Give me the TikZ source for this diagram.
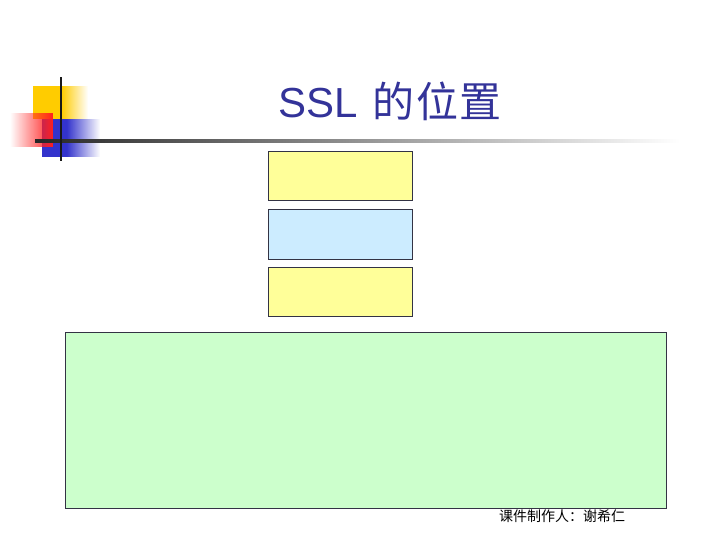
\documentclass[tikz,border=0pt]{standalone}
\usepackage{fontspec}
\setmainfont{Liberation Sans}
\newfontfamily\cjk{Noto Sans CJK SC}
\usetikzlibrary{fadings}
\definecolor{titleblue}{HTML}{333399}
\definecolor{boxyellow}{HTML}{FFFF99}
\definecolor{boxblue}{HTML}{CCECFF}
\definecolor{boxgreen}{HTML}{CCFFCC}
\definecolor{edgegray}{HTML}{333344}
\definecolor{sqyellow}{HTML}{FFCC00}
\definecolor{sqred}{HTML}{FF2020}
\definecolor{sqblue}{HTML}{3333CC}
\tikzset{
  layerbox/.style={draw=edgegray, line width=0.9pt, minimum width=144pt, minimum height=49pt, inner sep=0pt, anchor=north west},
}
\begin{document}
\begin{tikzpicture}[x=1pt,y=-1pt]
\useasboundingbox[fill=white] (0,0) rectangle (720,540);
% decorative squares
\fill[sqyellow] (33,86) rectangle (62,119);
\fill[sqyellow, path fading=east] (61.5,86) rectangle (88,119);
\fill[sqblue] (42,119) rectangle (67,157);
\fill[sqblue, path fading=east] (66.5,119) rectangle (100,157);
\fill[sqred, path fading=west] (10,113) rectangle (53,147);
% horizontal rule
\shade[left color=black!85, right color=white] (35,140) rectangle (680,143);
% vertical rule
\fill[black!90] (60,77) rectangle (62,161);
% title
\node[text=titleblue, font=\fontsize{42}{48}\selectfont] (title) at (390,101) {SSL\hspace{0.35em}{\cjk 的\hspace{0.04em}位\hspace{0.04em}置}};
% boxes
\node[layerbox, fill=boxyellow] (top) at (268,151) {};
\node[layerbox, fill=boxblue, minimum height=50pt] (mid) at (268,209) {};
\node[layerbox, fill=boxyellow] (bot) at (268,267) {};
\node[draw=edgegray, line width=0.9pt, fill=boxgreen, minimum width=601pt, minimum height=176pt, inner sep=0pt, anchor=north west] (net) at (65,332) {};
% footer
\node[font=\cjk\fontsize{14}{16}\selectfont, anchor=center] (footer) at (562,516) {课件制作人：谢希仁};
\end{tikzpicture}
\end{document}
